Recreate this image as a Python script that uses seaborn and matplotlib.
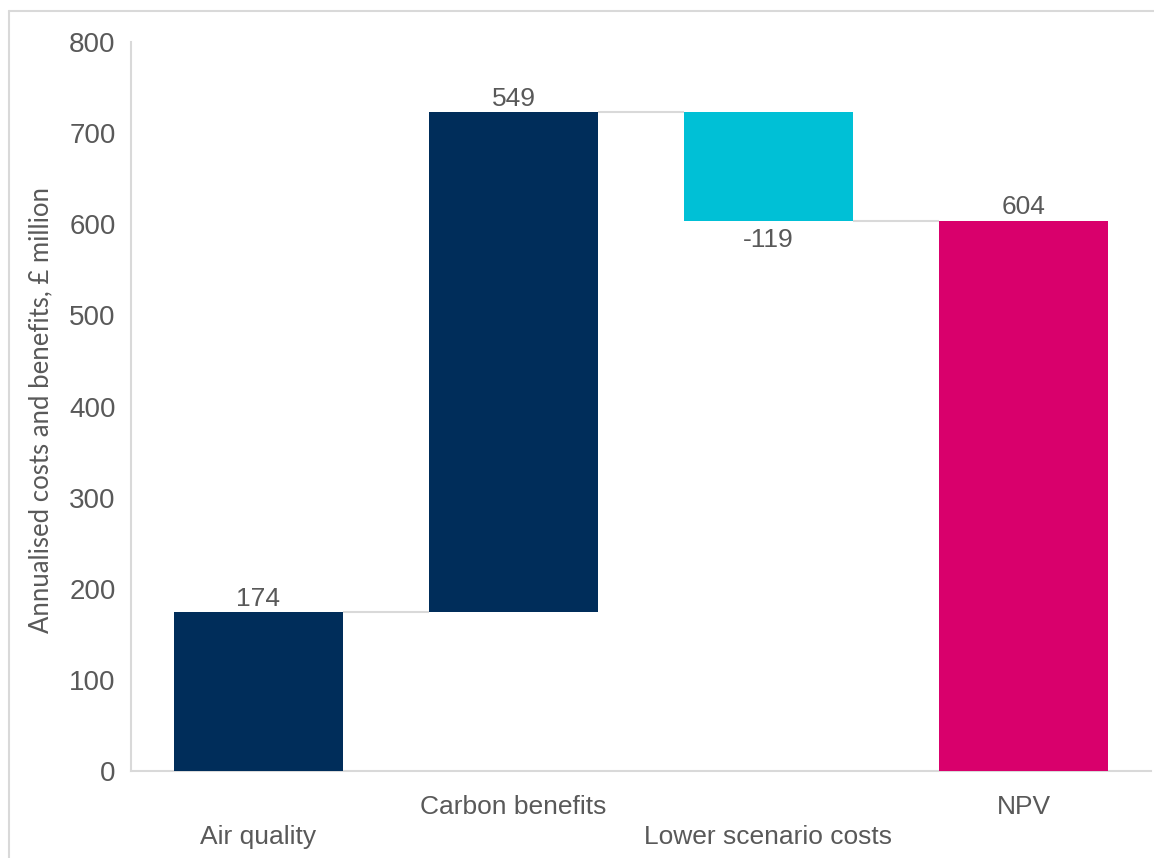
import matplotlib
matplotlib.use("Agg")
import matplotlib.pyplot as plt
from matplotlib.lines import Line2D
import seaborn as sns
import numpy as np

# Waterfall components (£ million, annualised)
categories = ["Air quality", "Carbon benefits", "Lower scenario costs", "NPV"]
changes = [174, 549, -119]
npv_total = 604
bar_colors = ["#002D5A", "#002D5A", "#00C0D6", "#D9006C"]
y_ticks = [0, 100, 200, 300, 400, 500, 600, 700, 800]

# Build bottoms / heights for the floating bars
values = changes + [npv_total]
bottoms, heights, levels = [], [], []
running = 0
for v in changes:
    start = running
    running += v
    bottoms.append(min(start, running))
    heights.append(abs(v))
    levels.append(running)
bottoms.append(0)
heights.append(npv_total)

sns.set_theme(style="white")
plt.rcParams["font.family"] = ["Liberation Sans", "DejaVu Sans"]
text_color = "#595959"
grid_grey = "#D9D9D9"

fig = plt.figure(figsize=(11.54, 8.58), dpi=100)
ax = fig.add_axes([131 / 1154, 1 - 771 / 858, 1020 / 1154, (771 - 42) / 858])

bar_w = 0.663
sns.barplot(x=categories, y=heights, hue=categories, palette=bar_colors,
            width=bar_w, legend=False, saturation=1, ax=ax, edgecolor="none")
for patch, b in zip(ax.patches, bottoms):
    patch.set_y(b)

# Connector lines between consecutive bars
for i, lvl in enumerate(levels):
    ax.plot([i + bar_w / 2, i + 1 - bar_w / 2], [lvl, lvl],
            color=grid_grey, lw=1.5, zorder=1, solid_capstyle="butt")

# Value labels
for i, (v, b, h) in enumerate(zip(values, bottoms, heights)):
    if v >= 0:
        ax.annotate(f"{v}", (i, b + h), xytext=(0, 1), textcoords="offset points",
                    ha="center", va="bottom", fontsize=19, color=text_color)
    else:
        ax.annotate(f"{v}", (i, b), xytext=(0, -5), textcoords="offset points",
                    ha="center", va="top", fontsize=19, color=text_color)

ax.set_xlim(-0.5, 3.5)
ax.set_ylim(0, 800)
ax.set_yticks(y_ticks)
ax.set_yticklabels([str(t) for t in y_ticks], fontsize=20, color=text_color)
ax.tick_params(axis="y", length=0, pad=11)
ax.tick_params(axis="x", length=0, labelsize=19, labelcolor=text_color)
# Staggered category labels
for i, tick in enumerate(ax.xaxis.get_major_ticks()):
    tick.set_pad(39 if i % 2 == 0 else 17)

ax.set_xlabel("")
ax.set_ylabel("Annualised costs and benefits, £ million", fontsize=18.5,
              color=text_color, family=["Lato", "DejaVu Sans"])
ax.yaxis.set_label_coords(-(131 - 53) / 1020, 0.495)

for side in ["top", "right"]:
    ax.spines[side].set_visible(False)
for side in ["left", "bottom"]:
    ax.spines[side].set_color(grid_grey)
    ax.spines[side].set_linewidth(1.5)
ax.spines["bottom"].set_zorder(0)

# Outer chart frame (top and left edges)
fig.add_artist(Line2D([8.5 / 1154, 8.5 / 1154], [0, 1 - 10.5 / 858],
                      transform=fig.transFigure, color=grid_grey, lw=1.5))
fig.add_artist(Line2D([8.5 / 1154, 1], [1 - 10.5 / 858, 1 - 10.5 / 858],
                      transform=fig.transFigure, color=grid_grey, lw=1.5))

fig.savefig("out.png", dpi=100, facecolor="white")
